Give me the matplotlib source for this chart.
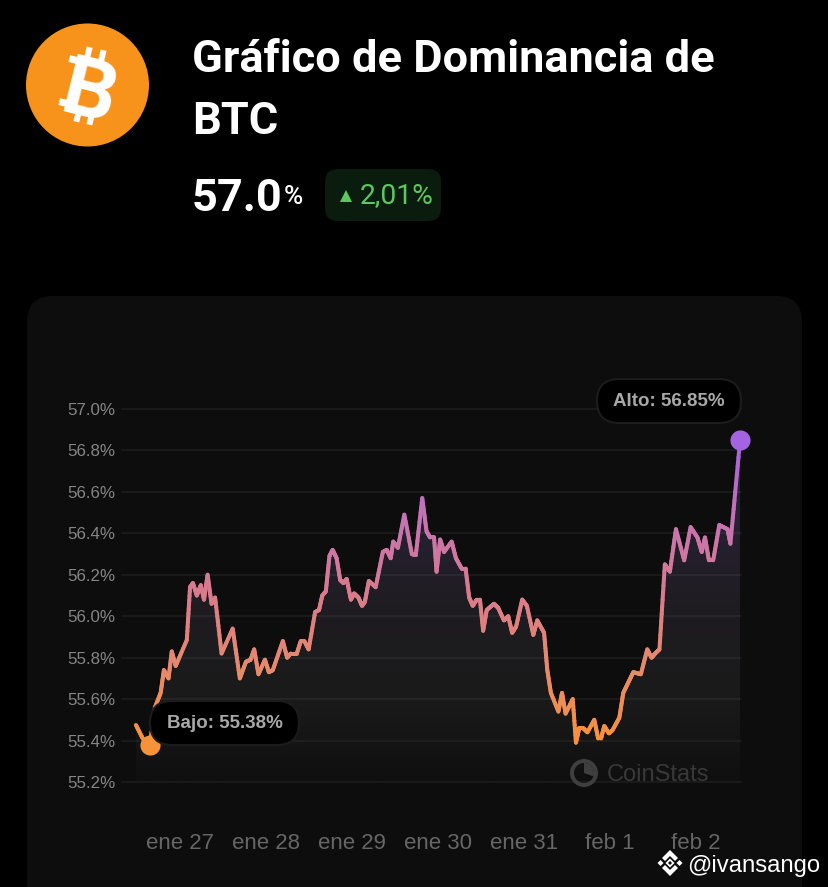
import numpy as np
import matplotlib
matplotlib.use("Agg")
import matplotlib.pyplot as plt
from matplotlib.collections import LineCollection
from matplotlib.colors import LinearSegmentedColormap, Normalize
from matplotlib.patches import Circle, FancyBboxPatch, Polygon, Rectangle, Wedge

# hours since ene 27 00:00
hours = [-12.3, -10.4, -8.4, -7.0, -5.4, -4.5, -3.2, -2.3, -1.2, 1.9, 2.8, 3.6, 4.7, 5.8, 6.7, 7.7, 8.8, 9.8,
         11.6, 14.7, 16.7, 18.4, 19.7, 20.7, 21.9, 23.7, 24.8, 25.9, 28.7, 29.9, 30.9, 32.6, 33.7, 34.7, 35.9,
         37.7, 38.8, 39.7, 40.7, 41.7, 42.6, 43.7, 44.7, 45.6, 46.5, 47.7, 48.6, 49.8, 50.8, 51.6, 52.7, 54.6,
         56.6, 57.7, 58.8, 59.5, 60.8, 62.6, 64.7, 65.8, 67.6, 68.8, 69.8, 70.9, 71.6, 72.6, 73.7, 75.8, 77.0,
         78.6, 79.7, 80.7, 81.7, 82.8, 83.7, 84.6, 85.6, 87.6, 88.8, 90.4, 91.6, 92.7, 93.8, 95.5, 96.8, 98.6,
         99.7, 101.6, 102.5, 103.5, 105.6, 106.6, 107.6, 109.6, 110.5, 111.4, 112.5, 113.7, 115.6, 116.7, 117.5,
         118.4, 119.7, 120.7, 122.6, 123.7, 125.1, 126.5, 128.6, 130.4, 131.6, 132.6, 133.8, 135.3, 136.7, 138.4,
         140.7, 142.5, 144.4, 145.6, 146.5, 147.6, 148.8, 150.5, 152.8, 153.6, 156.3]
dominance = [55.475, 55.41, 55.38, 55.56, 55.63, 55.74, 55.70, 55.83, 55.76, 55.885, 56.14, 56.16, 56.10, 56.15,
             56.08, 56.20, 56.06, 56.09, 55.82, 55.94, 55.70, 55.78, 55.79, 55.84, 55.72, 55.79, 55.73, 55.74,
             55.88, 55.80, 55.82, 55.82, 55.88, 55.88, 55.84, 56.02, 56.03, 56.10, 56.12, 56.29, 56.32, 56.28,
             56.175, 56.16, 56.18, 56.08, 56.11, 56.09, 56.05, 56.07, 56.17, 56.14, 56.31, 56.32, 56.28, 56.36,
             56.33, 56.49, 56.30, 56.295, 56.57, 56.41, 56.38, 56.38, 56.215, 56.37, 56.31, 56.36, 56.28, 56.23,
             56.23, 56.09, 56.05, 56.08, 56.08, 55.93, 56.03, 56.06, 56.04, 55.98, 56.00, 55.92, 55.95, 56.08,
             56.05, 55.91, 55.98, 55.92, 55.74, 55.63, 55.54, 55.63, 55.53, 55.60, 55.39, 55.46, 55.46, 55.44,
             55.50, 55.41, 55.41, 55.47, 55.435, 55.45, 55.51, 55.63, 55.68, 55.73, 55.72, 55.84, 55.80, 55.82,
             55.84, 56.25, 56.215, 56.42, 56.27, 56.43, 56.38, 56.31, 56.38, 56.27, 56.27, 56.44, 56.42, 56.35,
             56.85]
x_ticks = [0, 24, 48, 72, 96, 120, 144]
x_labels = ["ene 27", "ene 28", "ene 29", "ene 30", "ene 31", "feb 1", "feb 2"]
y_ticks = [55.2, 55.4, 55.6, 55.8, 56.0, 56.2, 56.4, 56.6, 56.8, 57.0]

W, H = 828, 887
hours = np.array(hours)
dominance = np.array(dominance)

fig = plt.figure(figsize=((W + 0.01) / 100, (H + 0.01) / 100), dpi=100, facecolor="black")


def pixel_axes(z):
    a = fig.add_axes([0, 0, 1, 1], zorder=z)
    a.set_xlim(0, W)
    a.set_ylim(H, 0)
    a.axis("off")
    a.patch.set_alpha(0)
    return a


back = pixel_axes(0)
front = pixel_axes(2)

# card
back.add_patch(FancyBboxPatch((27, 296), 775, 640, boxstyle="round,pad=0,rounding_size=26",
                              fc="#0d0d0d", ec="none"))

# bitcoin logo
back.add_patch(Circle((87.5, 85), 61.5, fc="#f7931a", ec="none"))
back.text(91, 87, "B", family="Roboto", weight="bold", fontsize=60, color="white",
          rotation=-14, rotation_mode="anchor", ha="center", va="center_baseline")
for rx, ry in [(88, 54), (102, 57), (78, 115), (91, 118)]:
    back.add_patch(Rectangle((rx - 3, ry - 7), 6, 14, angle=14, rotation_point="center", fc="white", ec="none"))
for rx, ry in [(77, 60), (67, 103)]:
    back.add_patch(Rectangle((rx - 8, ry - 3), 16, 7, angle=14, rotation_point="center", fc="white", ec="none"))

# header
back.text(192, 72, "Gráfico de Dominancia de", family="Roboto", weight="bold", fontsize=32.5, color="white")
back.text(192, 134, "BTC", family="Roboto", weight="bold", fontsize=32.5, color="white")
back.text(192, 211, "57.0", family="Roboto", weight="bold", fontsize=32.5, color="white")
back.text(284, 204, "%", family="Roboto", weight="medium", fontsize=19, color="white")
back.add_patch(FancyBboxPatch((325, 169), 116, 52, boxstyle="round,pad=0,rounding_size=13",
                              fc="#0a1c0e", ec="none"))
back.add_patch(Polygon([(340, 202), (352, 202), (346, 190)], fc="#5cc85f", ec="none"))
back.text(360, 203, "2,01%", family="Roboto", fontsize=20.3, color="#5cc85f")

# chart
left, right, top, bottom = 122, 741, 409, 782
ax = fig.add_axes([left / W, 1 - bottom / H, (right - left) / W, (bottom - top) / H], zorder=1)
ax.patch.set_alpha(0)
for s in ax.spines.values():
    s.set_visible(False)

fill_cmap = LinearSegmentedColormap.from_list("fill", [(0.0, "#0f0f0f"), (0.11, "#151515"), (0.22, "#1a1a1a"),
                                                       (0.45, "#1e1c20"), (0.67, "#262030"), (1.0, "#2c2238")])
fill = ax.fill_between(hours, dominance, 55.2, color="none")
grad = ax.imshow(np.linspace(1, 0, 256).reshape(-1, 1), cmap=fill_cmap, aspect="auto", vmin=0, vmax=1,
                 extent=[hours[0], hours[-1], 55.2, 57.0], zorder=1)
grad.set_clip_path(fill.get_paths()[0], transform=ax.transData)

line_cmap = LinearSegmentedColormap.from_list("dom", ["#f7923a", "#e68a6c", "#d97b8d", "#c573b5", "#a463e0"])
norm = Normalize(55.38, 56.85)
# split every segment so the colour runs smoothly along steep parts
seg_list, seg_vals = [], []
for i in range(len(hours) - 1):
    t = np.linspace(0, 1, 13)
    xs = hours[i] + (hours[i + 1] - hours[i]) * t
    ys = dominance[i] + (dominance[i + 1] - dominance[i]) * t
    for j in range(12):
        seg_list.append([(xs[j], ys[j]), (xs[j + 1], ys[j + 1])])
        seg_vals.append((ys[j] + ys[j + 1]) / 2)
lc = LineCollection(seg_list, cmap=line_cmap, norm=norm, linewidths=2.9, capstyle="round", zorder=3)
lc.set_array(np.array(seg_vals))
lc.set_clip_on(False)
ax.add_collection(lc)

low = dominance.argmin()
high = dominance.argmax()
ax.plot(hours[low], dominance[low], "o", ms=14.5, color="#f7923a", mec="none", clip_on=False, zorder=4)
ax.plot(hours[high], dominance[high], "o", ms=14.5, color="#a463e0", mec="none", clip_on=False, zorder=4)

ax.set_xlim((left - 180) * 24 / 86, (right - 180) * 24 / 86)
ax.set_ylim(55.2, 57.0)
ax.set_yticks(y_ticks)
ax.set_yticklabels([f"{v:.1f}%" for v in y_ticks], family="Liberation Sans", fontsize=12.2, color="#858585")
ax.set_xticks(x_ticks)
ax.set_xticklabels(x_labels, family="Liberation Sans", fontsize=16, color="#666666")
ax.tick_params(axis="x", length=0, pad=36.5)
ax.tick_params(axis="y", length=0, pad=5)
ax.grid(axis="y", color="white", alpha=0.055, lw=1.3, zorder=2)
for g in ax.get_ygridlines():
    g.set_clip_on(False)
ax.set_axisbelow(False)

# tooltips
for x0, y0, w, h, label in [(150, 701, 149, 44, f"Bajo: {dominance[low]:.2f}%"),
                            (597, 379, 144, 44, f"Alto: {dominance[high]:.2f}%")]:
    front.add_patch(FancyBboxPatch((x0, y0), w, h, boxstyle="round,pad=0,rounding_size=22",
                                   fc="black", ec="#1c1c1c", lw=1.5))
    front.text(x0 + w / 2, y0 + h / 2 + 0.5, label, family="Liberation Sans", weight="bold", fontsize=13.5,
               color="#a8a8a8", ha="center", va="center")

# coinstats mark
front.add_patch(Wedge((584, 773), 14, 0, 360, width=4, fc="#3f3f3f", ec="none"))
front.add_patch(Wedge((584, 773), 10, -90, 20, fc="#3f3f3f", ec="none"))
front.text(607, 781, "CoinStats", family="Liberation Sans", fontsize=17, color="#383838")

# binance watermark
front.add_patch(Polygon([(670, 850), (678, 858), (675, 861), (670, 856), (665, 861), (662, 858)], fc="white", ec="none"))
front.add_patch(Polygon([(670, 876), (678, 868), (675, 865), (670, 870), (665, 865), (662, 868)], fc="white", ec="none"))
for cx, r in [(660.5, 3), (679.5, 3), (670, 4.5)]:
    front.add_patch(Polygon([(cx - r, 863), (cx, 863 - r), (cx + r, 863), (cx, 863 + r)], fc="white", ec="none"))
front.add_patch(Polygon([(668, 863), (670, 861), (672, 863), (670, 865)], fc="#0d0d0d", ec="none"))
front.text(687.5, 872, "@ivansango", family="Liberation Sans", fontsize=17.2, color="white")

fig.savefig("out.png", dpi=100, facecolor="black")
